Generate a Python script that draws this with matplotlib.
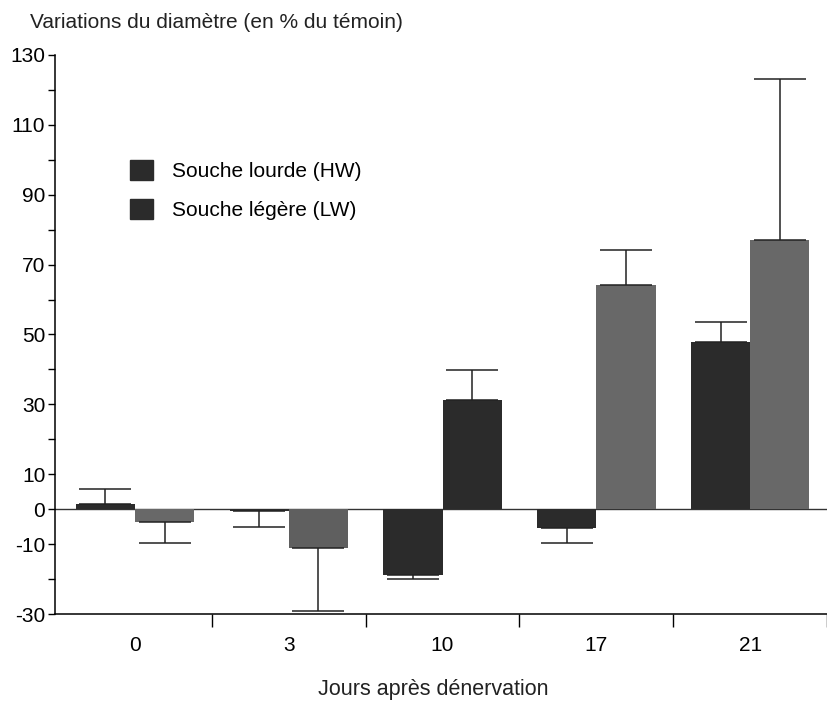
import numpy as np
import matplotlib
matplotlib.use("Agg")
import matplotlib.pyplot as plt
from matplotlib.patches import Patch

plt.rcParams['font.family'] = ['Liberation Sans', 'DejaVu Sans']
plt.rcParams['axes.unicode_minus'] = False

# data
jours = ['0', '3', '10', '17', '21']
hw = [1.4, -0.6, -18.9, -5.4, 47.9]      # souche lourde
hw_err = [4.3, 4.4, 1.1, 4.3, 5.7]
lw = [-3.7, -11.2, 31.2, 64.2, 77.0]     # souche legere
lw_err = [6.0, 17.8, 8.6, 10.0, 46.0]
yticks = [-30, -10, 0, 10, 30, 50, 70, 90, 110, 130]

dark = '#2b2b2b'
gray = '#686868'
lw_colors = [gray, '#5f5f5f', dark, gray, gray]   # the 10 day bar prints dark in the scan


def one_sided(vals, errs):
    # error bar only on the side away from zero
    lo = [e if v < 0 else 0 for v, e in zip(vals, errs)]
    hi = [e if v >= 0 else 0 for v, e in zip(vals, errs)]
    return [lo, hi]


fig = plt.figure(figsize=(8.27, 7.03), dpi=100)
ax = fig.add_axes([0.0665, 0.1266, 0.9335, 0.7952])

x = np.arange(len(jours))
w = 0.385
ekw = dict(ecolor='#222222', elinewidth=1.1, capsize=19, capthick=1.1)

ax.bar(x - w / 2, hw, w, color=dark, yerr=one_sided(hw, hw_err), error_kw=ekw, zorder=2)
ax.bar(x + w / 2, lw, w, color=lw_colors, yerr=one_sided(lw, lw_err), error_kw=ekw, zorder=2)
ax.axhline(0, color='#333333', lw=1.0, zorder=1)

ax.set_xlim(-0.52, 4.46)
ax.set_ylim(-30, 130)

# y axis: labels on odd tens, ticks on every ten
ax.set_yticks(yticks)
ax.set_yticks(np.arange(-30, 131, 10), minor=True)
ax.tick_params(axis='y', which='both', direction='out', length=5, width=1, labelsize=15, pad=2)

# x axis: ticks between groups, labels under groups
ax.set_xticks(x + 0.5)
ax.set_xticklabels([])
ax.set_xticks(x, minor=True)
ax.set_xticklabels(jours, minor=True)
ax.tick_params(axis='x', which='major', direction='out', length=9, width=1)
ax.tick_params(axis='x', which='minor', length=0, labelsize=15, pad=16)

for s in ['top', 'right']:
    ax.spines[s].set_visible(False)
ax.spines['left'].set_linewidth(1.1)
ax.spines['bottom'].set_linewidth(1.1)

# legend drawn as in the original (both squares dark)
handles = [Patch(color=dark), Patch(color=dark)]
ax.legend(handles, ['Souche lourde (HW)', 'Souche légère (LW)'], loc='upper left',
          bbox_to_anchor=(0.097, 0.812), frameon=False, fontsize=15,
          borderpad=0, borderaxespad=0,
          handlelength=1.1, handleheight=1.1, handletextpad=0.9, labelspacing=0.85)

fig.text(30 / 827, 1 - 22 / 703, 'Variations du diamètre (en % du témoin)', fontsize=15,
         ha='left', va='center', color='#222222')
fig.text(433 / 827, 1 - 690 / 703, 'Jours après dénervation', fontsize=15.5,
         ha='center', va='center', color='#222222')

fig.savefig('out.png', dpi=100)
